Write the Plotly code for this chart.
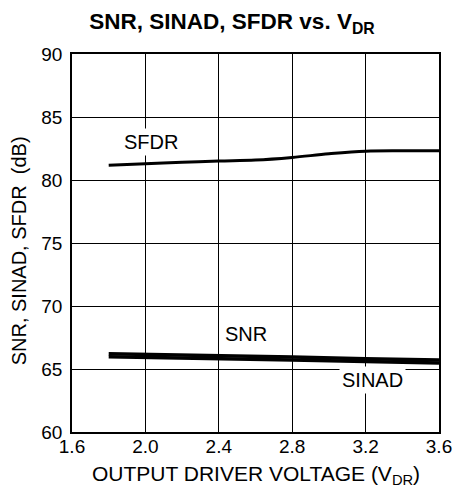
import plotly.graph_objects as go

# Data
vdr_sfdr = [1.8, 2.0, 2.2, 2.4, 2.6, 2.8, 3.0, 3.2, 3.4, 3.6]
sfdr = [81.18, 81.29, 81.40, 81.50, 81.58, 81.79, 82.08, 82.29, 82.32, 82.32]

vdr_noise = [1.8, 2.0, 2.4, 2.8, 3.2, 3.6]
snr = [66.21, 66.17, 66.07, 65.95, 65.82, 65.71]
sinad = [65.98, 65.94, 65.84, 65.72, 65.59, 65.47]

x_ticks = [1.6, 2.0, 2.4, 2.8, 3.2, 3.6]
x_tick_labels = ["1.6", "2.0", "2.4", "2.8", "3.2", "3.6"]
y_ticks = [60, 65, 70, 75, 80, 85, 90]
y_tick_labels = ["60", "65", "70", "75", "80", "85", "90"]

FONT = "Liberation Sans, Arial, Helvetica, sans-serif"

fig = go.Figure()
fig.add_trace(go.Scatter(x=vdr_sfdr, y=sfdr, mode="lines", name="SFDR",
                         line=dict(color="black", width=3, shape="spline")))
fig.add_trace(go.Scatter(x=vdr_noise, y=snr, mode="lines", name="SNR",
                         line=dict(color="black", width=3.5)))
fig.add_trace(go.Scatter(x=vdr_noise, y=sinad, mode="lines", name="SINAD",
                         line=dict(color="black", width=3.5)))

for txt, xv, yv in [("SFDR", 2.03, 83.0), ("SNR", 2.55, 67.8), ("SINAD", 3.238, 64.09)]:
    fig.add_annotation(x=xv, y=yv, text=txt, showarrow=False,
                       font=dict(family=FONT, size=20, color="black"),
                       bgcolor="white", borderpad=2)

# y-axis title
fig.add_annotation(xref="paper", yref="paper", x=-0.145, y=0.48,
                   text="SNR, SINAD, SFDR &nbsp;(dB)", textangle=-90, showarrow=False,
                   font=dict(family=FONT, size=20, color="black"),
                   xanchor="center", yanchor="middle")
# x-axis title
fig.add_annotation(xref="paper", yref="paper", x=0.5, y=-0.115,
                   text="OUTPUT DRIVER VOLTAGE (V<sub>DR</sub>)", showarrow=False,
                   font=dict(family=FONT, size=21, color="black"),
                   xanchor="center", yanchor="middle")

fig.update_layout(
    width=464, height=500,
    margin=dict(l=72, r=19, t=54, b=68),
    paper_bgcolor="white", plot_bgcolor="white",
    showlegend=False,
    font=dict(family=FONT, size=19, color="black"),
    title=dict(text="<b>SNR, SINAD, SFDR vs. V<sub>DR</sub></b>",
               x=0.5, xanchor="center", xref="container",
               y=0.958, yanchor="middle", yref="container",
               font=dict(family=FONT, size=22.5, color="black")),
    xaxis=dict(range=[1.6, 3.6], tickvals=x_ticks, ticktext=x_tick_labels,
               showgrid=True, gridcolor="black", gridwidth=1,
               showline=True, linecolor="black", linewidth=1.5, mirror=True,
               zeroline=False, ticks="", ticklabelstandoff=-4,
               tickfont=dict(family=FONT, size=19)),
    yaxis=dict(range=[60, 90], tickvals=y_ticks, ticktext=y_tick_labels,
               showgrid=True, gridcolor="black", gridwidth=1,
               showline=True, linecolor="black", linewidth=1.5, mirror=True,
               zeroline=False, ticks="", ticklabelstandoff=4,
               tickfont=dict(family=FONT, size=19)),
)

fig.write_html("out.html",
               config={"displayModeBar": False},
               post_script="document.body.style.margin='0';document.body.style.overflow='hidden';")
